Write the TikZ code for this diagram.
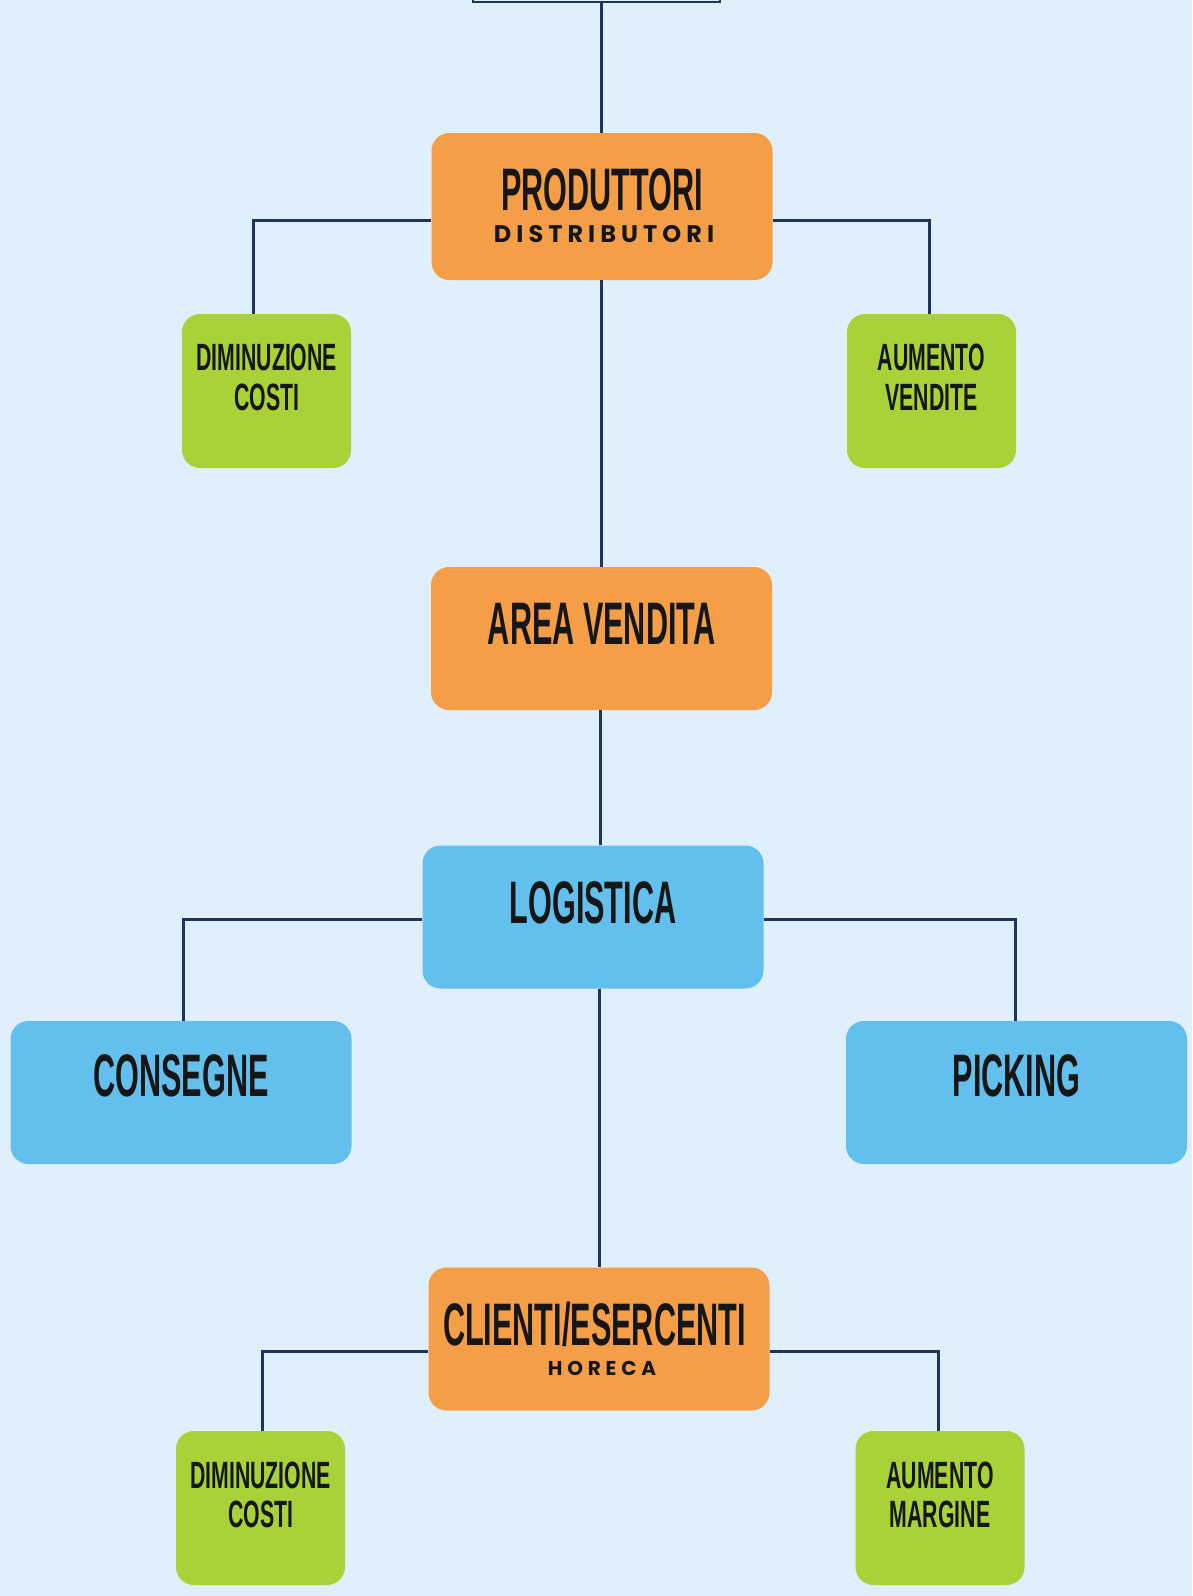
\documentclass[tikz,border=0pt]{standalone}
\usepackage{fontspec}
\usetikzlibrary{calc}
\newfontfamily\gothic{Liberation Sans}[FakeStretch=0.51]
\newfontfamily\gothicg{Liberation Sans}[FakeStretch=0.56]
\newfontfamily\spaced{Poppins}[LetterSpace=21]
\newfontfamily\spacedb{Poppins}[LetterSpace=24]
\definecolor{bgc}{RGB}{223,239,251}
\definecolor{orangec}{RGB}{244,158,72}
\definecolor{greenc}{RGB}{168,210,56}
\definecolor{bluec}{RGB}{99,191,236}
\definecolor{linec}{RGB}{30,52,94}
\definecolor{txtc}{RGB}{22,22,22}
\begin{document}
\begin{tikzpicture}[x=1pt,y=-1pt,
  box/.style={rounded corners=18pt,inner sep=0pt,draw=none},
  bigbox/.style={box,minimum width=341pt,minimum height=143pt},
  smallbox/.style={box,fill=greenc,minimum width=169pt,minimum height=154pt},
  conn/.style={draw=linec,line width=3pt},
  maintxt/.style={inner sep=0pt,anchor=base,text=txtc,font=\gothic\bfseries\fontsize{60}{60}\selectfont},
  greentxt/.style={inner sep=0pt,anchor=base,text=txtc,font=\gothicg\bfseries\fontsize{38}{38}\selectfont},
  subtxt/.style={inner sep=0pt,anchor=base,text=txtc,font=\spaced\bfseries\fontsize{24}{24}\selectfont},
  subtxtsmall/.style={inner sep=0pt,anchor=base,text=txtc,font=\spacedb\bfseries\fontsize{20}{20}\selectfont}
]
\fill[bgc] (0,0) rectangle (1192,1596);
\useasboundingbox (0,0) rectangle (1192,1596);

% boxes
\node[box,draw=linec,line width=2.5pt,fill=bgc,minimum width=247pt,minimum height=40pt,rounded corners=0pt] (top) at (596.5,-18) {};
\node[bigbox,fill=orangec,minimum height=147pt] (prod) at (602,206.5) {};
\node[smallbox] (dimL) at (266.5,391) {};
\node[smallbox] (aumV) at (931.5,391) {};
\node[bigbox,fill=orangec] (area) at (601.5,638.5) {};
\node[bigbox,fill=bluec] (log) at (593,917) {};
\node[bigbox,fill=bluec] (cons) at (181,1092.5) {};
\node[bigbox,fill=bluec] (pick) at (1016.5,1092.5) {};
\node[bigbox,fill=orangec] (cli) at (599,1339) {};
\node[smallbox] (dimB) at (260.5,1508) {};
\node[smallbox] (aumM) at (940,1508) {};

% connectors
\coordinate (tp) at (601,0);
\draw[conn] (top.south -| tp) -- (prod.north -| tp);
\draw[conn] (prod.south -| tp) -- (area.north -| tp);
\draw[conn] ($(prod.west)+(0,13.5)$) -| ($(dimL.north)+(-13.5,0)$);
\draw[conn] ($(prod.east)+(0,13.5)$) -| ($(aumV.north)+(-2,0)$);
\coordinate (al) at (600.6,0);
\draw[conn] (area.south -| al) -- (log.north -| al);
\draw[conn] ($(log.west)+(0,2)$) -| ($(cons.north)+(2,0)$);
\draw[conn] ($(log.east)+(0,2)$) -| ($(pick.north)+(-1.5,0)$);
\draw[conn] (log.south -| cli.north) -- (cli.north);
\draw[conn] ($(cli.west)+(0,12)$) -| ($(dimB.north)+(2,0)$);
\draw[conn] ($(cli.east)+(0,12)$) -| ($(aumM.north)+(-1.5,0)$);

% texts
\node[maintxt] (tprod) at (602,210) {PRODUTTORI};
\node[subtxt] (tdist) at (604,242) {DISTRIBUTORI};
\node[greentxt] (tdim1) at (266.7,370) {DIMINUZIONE};
\node[greentxt] (tcos1) at (266.7,410) {COSTI};
\node[greentxt] (taum1) at (931.5,370) {AUMENTO};
\node[greentxt] (tven1) at (931.5,410) {VENDITE};
\node[maintxt] (tarea) at (601.6,644.4) {AREA VENDITA};
\node[maintxt] (tlog) at (593,923.3) {LOGISTICA};
\node[maintxt] (tcons) at (181,1096.5) {CONSEGNE};
\node[maintxt] (tpick) at (1016.5,1096.5) {PICKING};
\node[maintxt] (tcli) at (594.5,1345.8) {CLIENTI/ESERCENTI};
\node[subtxtsmall] (thor) at (602,1375) {HORECA};
\node[greentxt] (tdim2) at (260.6,1488) {DIMINUZIONE};
\node[greentxt] (tcos2) at (260.6,1527) {COSTI};
\node[greentxt] (taum2) at (940,1488) {AUMENTO};
\node[greentxt] (tmar2) at (940,1527) {MARGINE};
\end{tikzpicture}
\end{document}
